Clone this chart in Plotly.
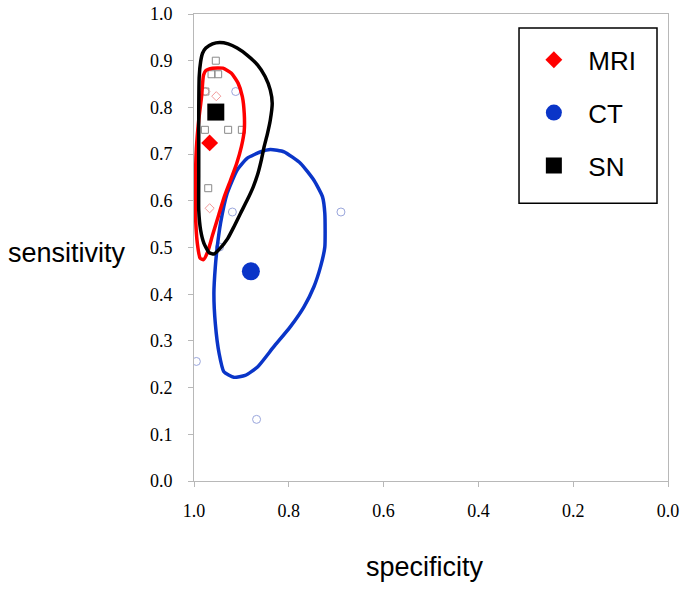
import plotly.graph_objects as go

# ---- data (specificity, sensitivity) ----
mri_summary_spec = [0.967]
mri_summary_sens = [0.724]
ct_summary_spec = [0.880]
ct_summary_sens = [0.449]
sn_summary_spec = [0.954]
sn_summary_sens = [0.790]

sn_study_spec = [0.954, 0.963, 0.949, 0.976, 0.977, 0.928, 0.899, 0.970]
sn_study_sens = [0.900, 0.871, 0.871, 0.834, 0.752, 0.752, 0.752, 0.627]
mri_study_spec = [0.953, 0.967, 0.976]
mri_study_sens = [0.824, 0.584, 0.834]
ct_study_spec = [0.912, 0.919, 0.690, 0.995, 0.868, 0.946]
ct_study_sens = [0.834, 0.576, 0.576, 0.256, 0.132, 0.501]

mri_region_spec = [0.980, 0.975, 0.961, 0.939, 0.921, 0.907, 0.898, 0.894, 0.894, 0.900, 0.910, 0.923,
                   0.936, 0.949, 0.961, 0.971, 0.980, 0.987, 0.993, 0.997, 0.997, 0.995, 0.990, 0.984, 0.980]
mri_region_sens = [0.869, 0.879, 0.884, 0.884, 0.873, 0.852, 0.823, 0.787, 0.751, 0.716, 0.680, 0.644,
                   0.609, 0.566, 0.526, 0.491, 0.474, 0.477, 0.509, 0.576, 0.644, 0.712, 0.773, 0.823, 0.869]

sn_region_spec = [0.982, 0.975, 0.961, 0.946, 0.928, 0.909, 0.888, 0.866, 0.850, 0.839, 0.835, 0.839,
                  0.845, 0.852, 0.858, 0.865, 0.875, 0.888, 0.902, 0.916, 0.929, 0.945, 0.958, 0.968,
                  0.979, 0.986, 0.990, 0.990, 0.990, 0.990, 0.989, 0.986, 0.982]
sn_region_sens = [0.916, 0.927, 0.936, 0.939, 0.936, 0.927, 0.912, 0.891, 0.866, 0.837, 0.809, 0.773,
                  0.744, 0.716, 0.687, 0.659, 0.630, 0.601, 0.573, 0.544, 0.519, 0.498, 0.486, 0.489,
                  0.509, 0.537, 0.580, 0.651, 0.723, 0.794, 0.866, 0.898, 0.916]

ct_region_spec = [0.859, 0.839, 0.810, 0.775, 0.747, 0.729, 0.724, 0.724, 0.733, 0.747, 0.768, 0.797,
                  0.832, 0.866, 0.892, 0.916, 0.937, 0.947, 0.955, 0.958, 0.955, 0.951, 0.944, 0.930,
                  0.909, 0.888, 0.859]
ct_region_sens = [0.705, 0.710, 0.705, 0.680, 0.644, 0.609, 0.573, 0.501, 0.459, 0.416, 0.373, 0.330,
                  0.287, 0.244, 0.226, 0.222, 0.234, 0.273, 0.337, 0.402, 0.459, 0.501, 0.552, 0.616,
                  0.666, 0.691, 0.705]

x_ticks = [1.0, 0.8, 0.6, 0.4, 0.2, 0.0]
x_tick_labels = ["1.0", "0.8", "0.6", "0.4", "0.2", "0.0"]
y_ticks = [0.0, 0.1, 0.2, 0.3, 0.4, 0.5, 0.6, 0.7, 0.8, 0.9, 1.0]
y_tick_labels = ["0.0", "0.1", "0.2", "0.3", "0.4", "0.5", "0.6", "0.7", "0.8", "0.9", "1.0"]

RED = "#ff0000"
BLUE = "#0a35c8"
BLACK = "#000000"
NB = "\u00a0\u00a0"

fig = go.Figure()

# individual studies (hollow)
fig.add_trace(go.Scatter(x=ct_study_spec, y=ct_study_sens, mode="markers", showlegend=False,
                         marker=dict(symbol="circle-open", size=8, color="#9aa6dc", line=dict(width=1))))
fig.add_trace(go.Scatter(x=mri_study_spec, y=mri_study_sens, mode="markers", showlegend=False,
                         marker=dict(symbol="diamond-open", size=7, color="#f29a9a", line=dict(width=1))))
fig.add_trace(go.Scatter(x=sn_study_spec, y=sn_study_sens, mode="markers", showlegend=False,
                         marker=dict(symbol="square-open", size=7, color="#8a8a8a", line=dict(width=1))))

# confidence regions
fig.add_trace(go.Scatter(x=ct_region_spec, y=ct_region_sens, mode="lines", showlegend=False,
                         line=dict(color=BLUE, width=3.5, shape="spline", smoothing=0.5)))
fig.add_trace(go.Scatter(x=mri_region_spec, y=mri_region_sens, mode="lines", showlegend=False,
                         line=dict(color=RED, width=3.5, shape="spline", smoothing=0.5)))
fig.add_trace(go.Scatter(x=sn_region_spec, y=sn_region_sens, mode="lines", showlegend=False,
                         line=dict(color=BLACK, width=3.5, shape="spline", smoothing=0.5)))

# summary points
fig.add_trace(go.Scatter(x=mri_summary_spec, y=mri_summary_sens, mode="markers", name=NB + "MRI",
                         legendgroup="a", marker=dict(symbol="diamond", size=13, color=RED)))
fig.add_trace(go.Scatter(x=ct_summary_spec, y=ct_summary_sens, mode="markers", name=NB + "CT",
                         legendgroup="b", marker=dict(symbol="circle", size=18, color=BLUE)))
fig.add_trace(go.Scatter(x=sn_summary_spec, y=sn_summary_sens, mode="markers", name=NB + "SN",
                         legendgroup="c", marker=dict(symbol="square", size=17, color=BLACK)))

axis_common = dict(showgrid=False, zeroline=False, showline=True, linecolor="#b8b8b8", linewidth=1,
                   mirror=True, ticks="outside", ticklen=5, tickcolor="#b8b8b8", automargin=False,
                   tickfont=dict(family="Liberation Serif", size=18, color="black"))

fig.update_layout(
    width=685, height=593,
    margin=dict(l=194, r=17, t=14, b=112, pad=0, autoexpand=False),
    paper_bgcolor="white", plot_bgcolor="white",
    xaxis=dict(range=[1.0, 0.0], tickvals=x_ticks, ticktext=x_tick_labels, ticklabelstandoff=8, **axis_common),
    yaxis=dict(range=[0.0, 1.0], tickvals=y_ticks, ticktext=y_tick_labels, ticklabelstandoff=12, **axis_common),
    legend=dict(x=0.717, y=0.952, xanchor="left", yanchor="top", bgcolor="rgba(0,0,0,0)",
                borderwidth=0, tracegroupgap=16, traceorder="grouped",
                font=dict(family="Liberation Sans", size=26, color="black")),
    shapes=[dict(type="rect", xref="paper", yref="paper", x0=0.6857, x1=0.9768, y0=0.595, y1=0.970,
                 line=dict(color="black", width=1.5), fillcolor="rgba(0,0,0,0)")],
    annotations=[
        dict(text="sensitivity", xref="paper", yref="paper", x=-0.2686, y=0.488, showarrow=False,
             xanchor="center", yanchor="middle",
             font=dict(family="Liberation Sans", size=27, color="black")),
        dict(text="specificity", xref="paper", yref="paper", x=0.487, y=-0.185, showarrow=False,
             xanchor="center", yanchor="middle",
             font=dict(family="Liberation Sans", size=27, color="black")),
    ],
)

fig.write_html("out.html", config={"displayModeBar": False},
               post_script="document.body.style.margin='0';document.body.style.overflow='hidden';")
